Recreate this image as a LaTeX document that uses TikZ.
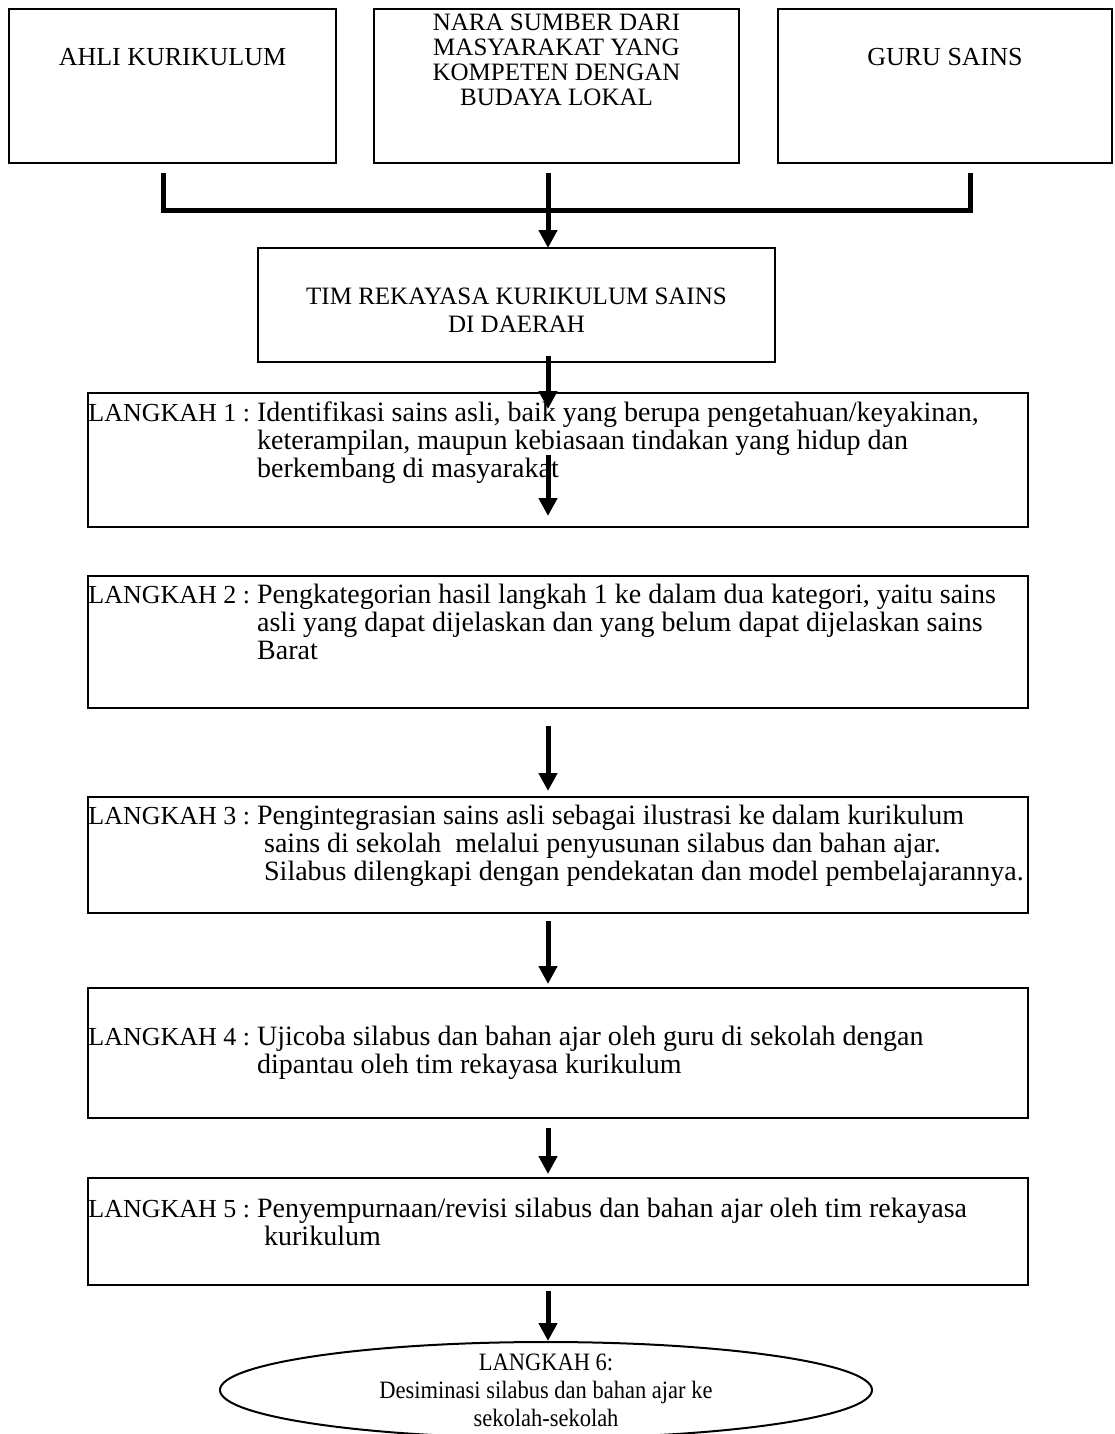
\documentclass[tikz,border=0pt]{standalone}
\usepackage{fontspec}
\setmainfont{Liberation Serif}
\usetikzlibrary{arrows.meta,shapes.geometric}

\newcommand{\langkah}[1]{{\fontsize{13pt}{14pt}\selectfont LANGKAH #1 :}}

\tikzset{
 box/.style={draw,line width=1pt,inner sep=0pt},
 boxtext/.style={anchor=north,inner sep=0pt,align=center},
 steptext/.style={anchor=north west,inner sep=0pt,font=\fontsize{14pt}{14pt}\selectfont},
 flow/.style={line width=2.5pt,-{Triangle[width=9pt,length=9pt]}},
 bar/.style={line width=2.5pt},
}

\begin{document}
\begin{tikzpicture}[x=0.5pt,y=-0.5pt,font=\fontsize{12.5pt}{14pt}\selectfont]
\useasboundingbox (0,0) rectangle (1114,1434);
\coordinate (mid) at (548,0);
% sumber
\node[box,minimum width=163.5pt,minimum height=77pt] (ahli) at (172.5,86) {};
\node[box,minimum width=182.5pt,minimum height=77pt] (nara) at (556.5,86) {};
\node[box,minimum width=167pt,minimum height=77pt] (guru) at (945,86) {};
\node[boxtext,font=\fontsize{13pt}{14pt}\selectfont] (ahlitxt) at (ahli.north |- 0,48) {AHLI KURIKULUM};
\node[boxtext,font=\fontsize{12.5pt}{12.5pt}\selectfont] (naratxt) at (nara.north |- 0,14)
 {NARA SUMBER DARI\\MASYARAKAT YANG\\KOMPETEN DENGAN\\BUDAYA LOKAL};
\node[boxtext,font=\fontsize{13pt}{14pt}\selectfont] (gurutxt) at (guru.north |- 0,48) {GURU SAINS};
\draw[bar] ([shift={(-4.75pt,-4.5pt)}]ahli.south) |- ([shift={(12.5pt,-23pt)}]guru.south)
 -- ([shift={(12.5pt,-4.5pt)}]guru.south);
\draw[flow,shorten <=4.5pt] (mid |- nara.south) -- (mid |- 0,248);

% tim
\node[box,minimum width=258.5pt,minimum height=57pt] (tim) at (516.5,305) {};
\node[boxtext] (timtxt) at (tim.north |- 0,288) {TIM REKAYASA KURIKULUM SAINS\\DI DAERAH};

% langkah 1 - 5
\node[box,minimum width=470pt,minimum height=67pt] (l1) at (558,460) {};
\node[box,minimum width=470pt,minimum height=66pt] (l2) at (558,642) {};
\node[box,minimum width=470pt,minimum height=58pt] (l3) at (558,855) {};
\node[box,minimum width=470pt,minimum height=65pt] (l4) at (558,1053) {};
\node[box,minimum width=470pt,minimum height=53.5pt] (l5) at (558,1231.5) {};

\node[steptext] (l1txt) at (88,401) {\begin{tabular}[t]{@{}l@{\ }l@{}}
 \langkah{1} & Identifikasi sains asli, baik yang berupa pengetahuan/keyakinan,\\
 & keterampilan, maupun kebiasaan tindakan yang hidup dan\\
 & berkembang di masyarakat\end{tabular}};
\node[steptext] (l2txt) at (88,583) {\begin{tabular}[t]{@{}l@{\ }l@{}}
 \langkah{2} & Pengkategorian hasil langkah 1 ke dalam dua kategori, yaitu sains\\
 & asli yang dapat dijelaskan dan yang belum dapat dijelaskan sains\\
 & Barat\end{tabular}};
\node[steptext] (l3txt) at (88,804) {\begin{tabular}[t]{@{}l@{\ }l@{}}
 \langkah{3} & Pengintegrasian sains asli sebagai ilustrasi ke dalam kurikulum\\
 & \ sains di sekolah\ \ melalui penyusunan silabus dan bahan ajar.\\
 & \ Silabus dilengkapi dengan pendekatan dan model pembelajarannya.\end{tabular}};
\node[steptext] (l4txt) at (88,1025) {\begin{tabular}[t]{@{}l@{\ }l@{}}
 \langkah{4} & Ujicoba silabus dan bahan ajar oleh guru di sekolah dengan\\
 & dipantau oleh tim rekayasa kurikulum\end{tabular}};
\node[steptext] (l5txt) at (88,1197) {\begin{tabular}[t]{@{}l@{\ }l@{}}
 \langkah{5} & Penyempurnaan/revisi silabus dan bahan ajar oleh tim rekayasa\\
 & \ kurikulum\end{tabular}};

% langkah 6
\node[draw,ellipse,line width=1pt,inner sep=0pt,minimum width=326pt,minimum height=48pt] (l6) at (546,1390) {};
\node[boxtext,xscale=0.9,transform shape] (l6txt) at (l6.north |- 0,1354)
 {LANGKAH 6:\\Desiminasi silabus dan bahan ajar ke\\sekolah-sekolah};

\draw[flow,shorten <=-3.5pt,shorten >=-8.5pt] (mid |- tim.south) -- (mid |- l1.north);
\draw[flow,shorten <=-2.5pt,shorten >=6pt] (mid |- l1.center) -- (mid |- l1.south);
\draw[flow,shorten <=8.5pt,shorten >=2.5pt] (mid |- l2.south) -- (mid |- l3.north);
\draw[flow,shorten <=3.5pt,shorten >=1.5pt] (mid |- l3.south) -- (mid |- l4.north);
\draw[flow,shorten <=4.5pt,shorten >=1.5pt] (mid |- l4.south) -- (mid |- l5.north);
\draw[flow,shorten <=2.5pt] (mid |- l5.south) -- (mid |- l6.north);
\end{tikzpicture}
\end{document}
